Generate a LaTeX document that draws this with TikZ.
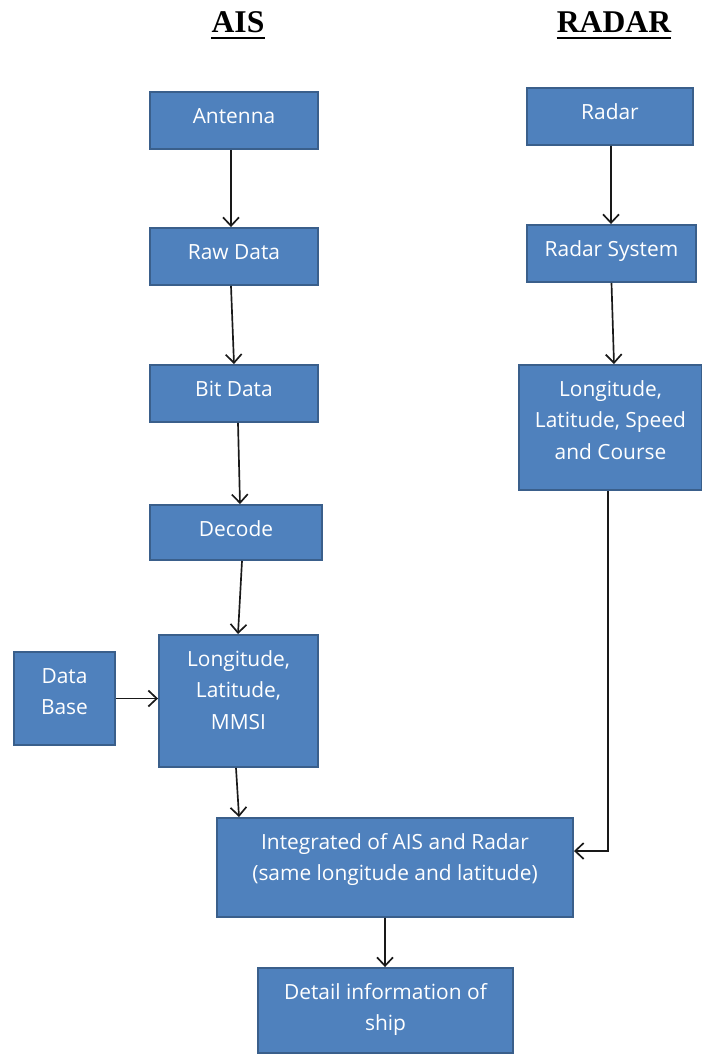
\documentclass[tikz,border=0pt]{standalone}
\usepackage{fontspec}
\setmainfont{Open Sans}
\newfontfamily\titlefont{Liberation Serif}
\usetikzlibrary{arrows.meta}

\definecolor{blkfill}{HTML}{4F81BD}
\definecolor{blkline}{HTML}{3A5F8B}
% box text sits near the top of each block
\newcommand{\blktxt}[3]{\parbox[c][#1][t]{#2}{\centering\rule{0pt}{0.62cm}#3}}

\tikzset{
  blk/.style={draw=blkline, fill=blkfill, line width=1.1pt, inner sep=0pt,
    text=white, font=\fontsize{11.9}{18.2}\selectfont},
  ttl/.style={inner sep=0pt, font=\titlefont\bfseries\fontsize{18}{20}\selectfont},
  arr/.style={-{Straight Barb[length=1.7mm,width=3.2mm]}, line width=0.95pt, black!90}
}

\begin{document}
\begin{tikzpicture}
    \useasboundingbox (0,0) rectangle (14.04,-21.1);
        % titles
        \node[ttl, anchor=base] (ais) at (4.76,-0.64) {AIS};
        \node[ttl, anchor=base] (radar) at (12.28,-0.64) {RADAR};
        \draw[line width=1.2pt] ([yshift=-3.2pt]ais.base west) -- ([yshift=-3.2pt]ais.base east);
        \draw[line width=1.2pt] ([yshift=-3.2pt]radar.base west) -- ([yshift=-3.2pt]radar.base east);

        % AIS side
        \node[blk] (ant) at (4.68,-2.41) {\blktxt{1.14cm}{3.36cm}{Antenna}};
        \node[blk] (raw) at (4.68,-5.13) {\blktxt{1.14cm}{3.36cm}{Raw Data}};
        \node[blk] (bit) at (4.68,-7.87) {\blktxt{1.14cm}{3.36cm}{Bit Data}};
        \node[blk] (dec) at (4.72,-10.65) {\blktxt{1.10cm}{3.44cm}{Decode}};
        \node[blk] (lla) at (4.77,-14.02) {\blktxt{2.64cm}{3.18cm}{Longitude,\\ Latitude,\\ MMSI}};
        \node[blk] (db) at (1.29,-13.97) {\blktxt{1.86cm}{2.02cm}{Data\\ Base}};

        % RADAR side
        \node[blk] (rad) at (12.20,-2.33) {\blktxt{1.14cm}{3.32cm}{Radar}};
        \node[blk] (rsys) at (12.23,-5.07) {\blktxt{1.14cm}{3.38cm}{Radar System}};
        \node[blk] (llsc) at (12.21,-8.55) {\blktxt{2.50cm}{3.66cm}{Longitude,\\ Latitude, Speed\\ and Course}};

        % result
        \node[blk] (integ) at (7.90,-17.35) {\blktxt{1.98cm}{7.12cm}{Integrated of AIS and Radar\\ (same longitude and latitude)}};
        \node[blk] (det) at (7.71,-20.21) {\blktxt{1.70cm}{5.10cm}{Detail information of\\ ship}};

        \draw[arr] ([xshift=-0.06cm]ant.south) -- ([xshift=-0.06cm]raw.north);
        \draw[arr] ([xshift=-0.06cm]raw.south) -- (bit.north);
        \draw[arr] ([xshift=0.08cm]bit.south) -- ([xshift=0.08cm]dec.north);
        \draw[arr] ([xshift=0.12cm]dec.south) -- ([xshift=-0.01cm]lla.north);
        \draw[arr] (db.east) -- (db.east -| lla.west);
        \draw[arr] ([xshift=-0.05cm]lla.south) -- ([xshift=0.46cm]integ.north west);
        \draw[arr] ([xshift=0.02cm]rad.south) -- ([xshift=-0.01cm]rsys.north);
        \draw[arr] (rsys.south) -- ([xshift=0.07cm]llsc.north);
        \draw[arr] ([xshift=-0.05cm]llsc.south) |- ([yshift=0.33cm]integ.east);
        \draw[arr] ([xshift=-0.2cm]integ.south) -- ([xshift=-0.01cm]det.north);
\end{tikzpicture}
\end{document}
